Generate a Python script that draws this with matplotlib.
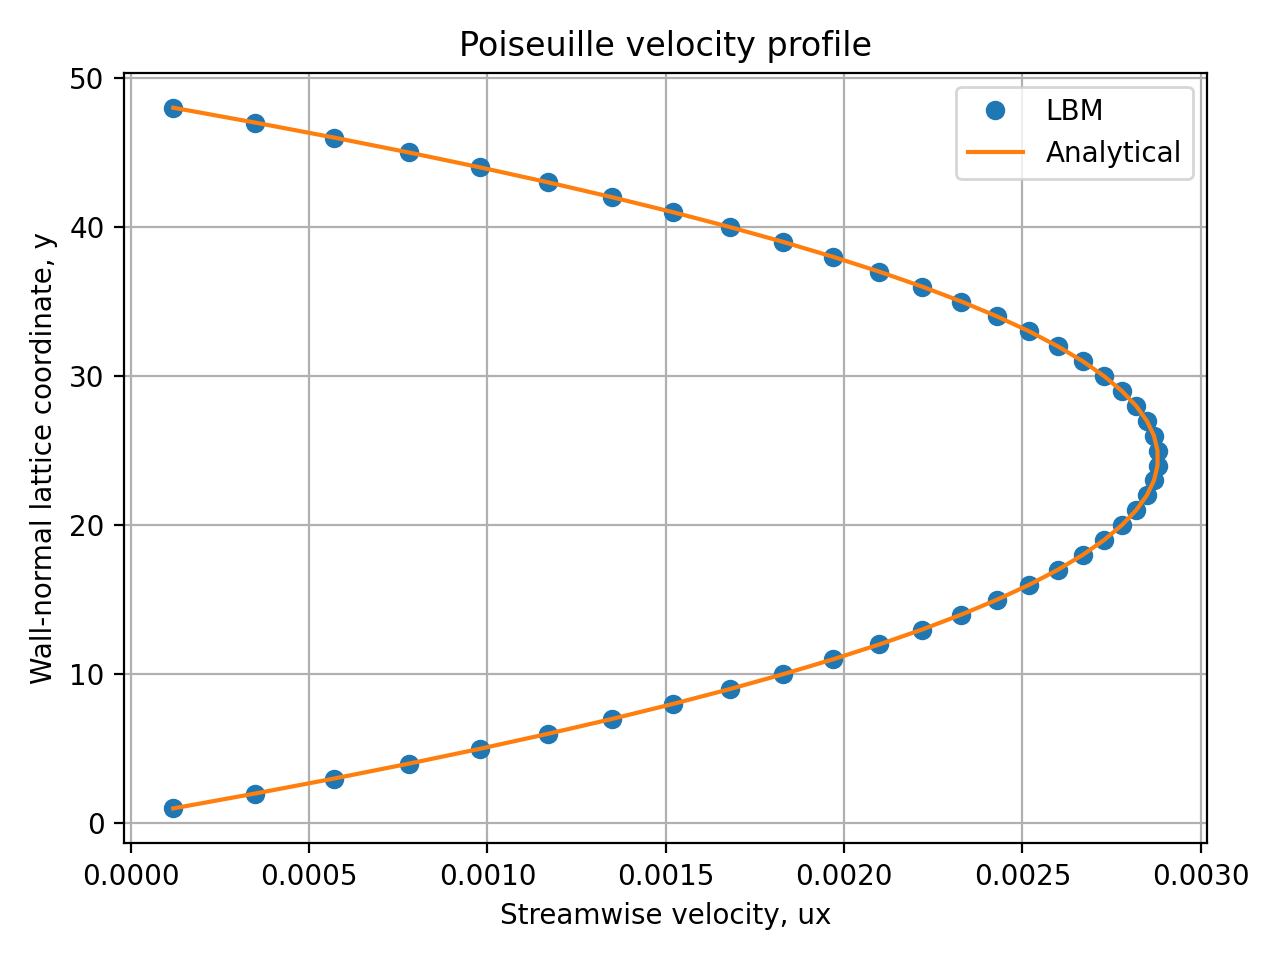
import matplotlib
matplotlib.use("Agg")
import matplotlib.pyplot as plt

# wall-normal lattice nodes
y_nodes = list(range(1, 49))

# LBM streamwise velocity (lower half, mirrored for upper half)
ux_half = [0.000119, 0.000349, 0.000569, 0.000779, 0.000979, 0.001169,
           0.001349, 0.001519, 0.001679, 0.001829, 0.001969, 0.002099,
           0.002219, 0.002329, 0.002429, 0.002519, 0.002599, 0.002669,
           0.002729, 0.002779, 0.002819, 0.002849, 0.002869, 0.002879]
ux_lbm = ux_half + ux_half[::-1]

# analytical profile at the same nodes
ux_analytical = ux_half + ux_half[::-1]

fig, ax = plt.subplots(figsize=(6.4, 4.8), dpi=200)

ax.plot(ux_lbm, y_nodes, "o", label="LBM")
ax.plot(ux_analytical, y_nodes, "-", label="Analytical")

ax.set_xlabel("Streamwise velocity, ux")
ax.set_ylabel("Wall-normal lattice coordinate, y")
ax.set_title("Poiseuille velocity profile")
ax.grid(True)
ax.legend()

fig.tight_layout()
fig.savefig("out.png", dpi=200)
